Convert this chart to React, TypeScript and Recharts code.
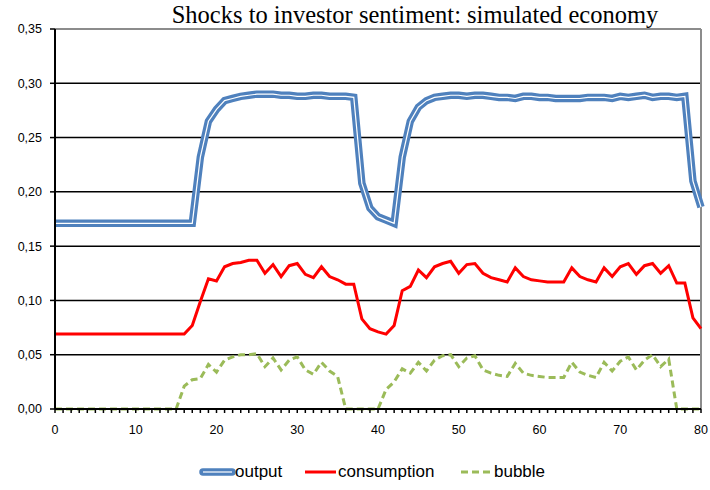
import React from 'react';
import { LineChart, Line, XAxis, YAxis, CartesianGrid, ReferenceLine } from 'recharts';

// values, one per period 0..80
const output = [
  0.171, 0.171, 0.171, 0.171, 0.171, 0.171, 0.171, 0.171, 0.171, 0.171,
  0.171, 0.171, 0.171, 0.171, 0.171, 0.171, 0.171, 0.171, 0.232, 0.265,
  0.276, 0.284, 0.286, 0.288, 0.289, 0.290, 0.290, 0.290, 0.289, 0.289,
  0.288, 0.288, 0.289, 0.289, 0.288, 0.288, 0.288, 0.287, 0.208, 0.185,
  0.177, 0.174, 0.171, 0.232, 0.265, 0.278, 0.284, 0.287, 0.288, 0.289,
  0.289, 0.288, 0.289, 0.289, 0.288, 0.287, 0.287, 0.286, 0.288, 0.288,
  0.287, 0.287, 0.286, 0.286, 0.286, 0.286, 0.287, 0.287, 0.287, 0.286,
  0.288, 0.287, 0.288, 0.289, 0.287, 0.288, 0.288, 0.287, 0.288, 0.210,
  0.186,
];

const consumption = [
  0.069, 0.069, 0.069, 0.069, 0.069, 0.069, 0.069, 0.069, 0.069, 0.069,
  0.069, 0.069, 0.069, 0.069, 0.069, 0.069, 0.069, 0.077, 0.099, 0.120,
  0.118, 0.131, 0.134, 0.135, 0.137, 0.137, 0.125, 0.133, 0.122, 0.132,
  0.134, 0.124, 0.121, 0.131, 0.122, 0.119, 0.115, 0.115, 0.083, 0.074,
  0.071, 0.069, 0.077, 0.109, 0.113, 0.128, 0.121, 0.131, 0.134, 0.136,
  0.125, 0.133, 0.134, 0.125, 0.121, 0.119, 0.117, 0.130, 0.122, 0.119,
  0.118, 0.117, 0.117, 0.117, 0.130, 0.122, 0.119, 0.117, 0.130, 0.122,
  0.131, 0.134, 0.124, 0.132, 0.134, 0.125, 0.132, 0.116, 0.116, 0.084,
  0.074,
];

const bubble = [
  0, 0, 0, 0, 0, 0, 0, 0, 0, 0,
  0, 0, 0, 0, 0, 0, 0.021, 0.027, 0.028, 0.041,
  0.034, 0.045, 0.048, 0.050, 0.050, 0.051, 0.039, 0.047, 0.036, 0.045,
  0.048, 0.036, 0.032, 0.043, 0.035, 0.030, 0, 0, 0, 0,
  0, 0.018, 0.025, 0.037, 0.033, 0.043, 0.035, 0.045, 0.049, 0.050,
  0.039, 0.047, 0.049, 0.036, 0.033, 0.031, 0.030, 0.042, 0.033, 0.031,
  0.030, 0.029, 0.029, 0.029, 0.043, 0.034, 0.031, 0.029, 0.043, 0.035,
  0.044, 0.048, 0.036, 0.045, 0.050, 0.039, 0.046, 0, 0, 0,
  0,
];

const periods = output.map((_, i) => i);
const yTicks = [0, 0.05, 0.1, 0.15, 0.2, 0.25, 0.3, 0.35];

const data = periods.map((t, i) => ({
  t,
  output: output[i],
  consumption: consumption[i],
  bubble: bubble[i],
}));

const BLUE = '#4F81BD';
const RED = '#FF0000';
const GREEN = '#9BBB59';
const SANS = '"Liberation Sans", Arial, sans-serif';
const SERIF = '"Liberation Serif", "Times New Roman", serif';

const fmtY = (v: number) => v.toFixed(2).replace('.', ',');
const fmtX = (v: number) => (v % 10 === 0 ? String(v) : '');

const legendText: React.CSSProperties = {
  position: 'absolute',
  top: 463,
  fontFamily: SANS,
  fontSize: 17,
  lineHeight: '18px',
  color: '#000',
  whiteSpace: 'nowrap',
};

export default function App() {
  return (
    <div style={{ position: 'absolute', left: 0, top: 0, width: 710, height: 490, background: '#fff' }}>
      <div
        style={{
          position: 'absolute',
          top: 1,
          left: 0,
          width: 830,
          textAlign: 'center',
          fontFamily: SERIF,
          fontSize: 24.5,
          lineHeight: '27px',
          color: '#000',
        }}
      >
        Shocks to investor sentiment: simulated economy
      </div>

      <LineChart width={710} height={490} data={data} margin={{ top: 29, right: 9, left: 0, bottom: 51 }}>
        <CartesianGrid vertical={false} stroke="#000" strokeWidth={1.5} />
        <XAxis
          dataKey="t"
          type="number"
          domain={[0, 80]}
          ticks={periods}
          interval={0}
          tickFormatter={fmtX}
          height={30}
          tickSize={4}
          tickMargin={12}
          axisLine={{ stroke: '#000', strokeWidth: 2 }}
          tickLine={{ stroke: '#000', strokeWidth: 1.5 }}
          tick={{ fill: '#000', fontFamily: SANS, fontSize: 12.5 }}
        />
        <YAxis
          type="number"
          domain={[0, 0.35]}
          ticks={yTicks}
          tickFormatter={fmtY}
          width={55}
          tickSize={5}
          tickMargin={8}
          axisLine={{ stroke: '#000', strokeWidth: 2 }}
          tickLine={{ stroke: '#000', strokeWidth: 1.5 }}
          tick={{ fill: '#000', fontFamily: SANS, fontSize: 12.5 }}
        />
        <ReferenceLine y={0.35} stroke="#8c8c8c" strokeWidth={2} />
        <ReferenceLine x={80} stroke="#8c8c8c" strokeWidth={2} />
        <Line
          type="linear"
          dataKey="output"
          name="output"
          stroke={BLUE}
          strokeWidth={7.5}
          dot={false}
          activeDot={false}
          isAnimationActive={false}
        />
        <Line
          type="linear"
          dataKey="output"
          name="output-inner"
          stroke="#fff"
          strokeWidth={1.2}
          dot={false}
          activeDot={false}
          isAnimationActive={false}
        />
        <Line
          type="linear"
          dataKey="consumption"
          name="consumption"
          stroke={RED}
          strokeWidth={3}
          dot={false}
          activeDot={false}
          isAnimationActive={false}
        />
        <Line
          type="linear"
          dataKey="bubble"
          name="bubble"
          stroke={GREEN}
          strokeWidth={3}
          strokeDasharray="7 4"
          dot={false}
          activeDot={false}
          isAnimationActive={false}
        />
      </LineChart>

      {/* legend, laid out by hand to match the reference */}
      <svg style={{ position: 'absolute', left: 0, top: 460 }} width={710} height={24}>
        <line x1={203} y1={12} x2={232} y2={12} stroke={BLUE} strokeWidth={7.5} strokeLinecap="round" />
        <line x1={203} y1={12} x2={232} y2={12} stroke="#fff" strokeWidth={1.2} />
        <line x1={305} y1={12} x2={336} y2={12} stroke={RED} strokeWidth={3} />
        <line x1={461} y1={12} x2={490} y2={12} stroke={GREEN} strokeWidth={3} strokeDasharray="7 4" />
      </svg>
      <span style={{ ...legendText, left: 235 }}>output</span>
      <span style={{ ...legendText, left: 338 }}>consumption</span>
      <span style={{ ...legendText, left: 494 }}>bubble</span>
    </div>
  );
}
